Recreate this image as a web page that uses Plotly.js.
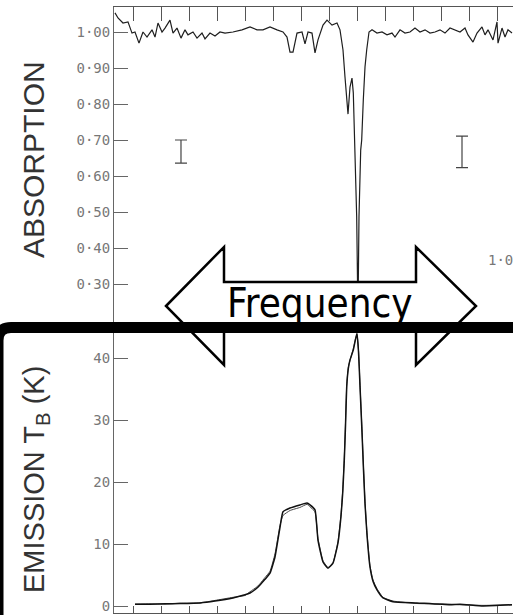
<!DOCTYPE html>
<html>
<head>
<meta charset="utf-8">
<script src="https://cdn.plot.ly/plotly-3.0.1.min.js"></script>
<style>
  html, body { margin: 0; padding: 0; background: #fff; overflow: hidden; }
  #chart { width: 513px; height: 615px; }
</style>
</head>
<body>
<div id="chart"></div>
<script>
// Channel axis (tick marks every channel, no labels)
const channelTicks = [0, 1, 2, 3, 4, 5, 6, 7, 8, 9, 10, 11, 12, 13];

// 21-cm absorption spectrum (line-to-continuum ratio)
const absChannel = [-0.643, -0.536, -0.357, -0.179, -0.036, 0.071, 0.214, 0.357, 0.5, 0.679, 0.786, 0.893,
  1.036, 1.143, 1.321, 1.429, 1.571, 1.714, 1.857, 1.964, 2.143, 2.286, 2.464, 2.571, 2.75, 2.929,
  3.107, 3.286, 3.571, 3.893, 4.179, 4.429, 4.643, 4.893, 5.143, 5.357, 5.5, 5.607, 5.714, 5.857,
  6.036, 6.143, 6.25, 6.393, 6.5, 6.607, 6.786, 6.929, 7.107, 7.286, 7.393, 7.5, 7.571, 7.679,
  7.75, 7.821, 7.868, 7.939, 7.989, 8.018, 8.029, 8.046, 8.071, 8.132, 8.168, 8.225, 8.286, 8.346,
  8.429, 8.536, 8.714, 8.893, 9.071, 9.25, 9.357, 9.536, 9.714, 9.893, 10.071, 10.25, 10.429,
  10.607, 10.786, 10.964, 11.143, 11.321, 11.5, 11.679, 11.857, 11.964, 12.143, 12.286, 12.464,
  12.571, 12.679, 12.857, 13.0, 13.036, 13.179, 13.286, 13.393, 13.536];
const absRatio = [1.053, 1.039, 1.025, 1.028, 0.997, 1.000, 0.969, 1.000, 0.986, 1.006, 0.986, 1.025,
  1.000, 1.011, 1.033, 0.997, 1.011, 0.983, 1.006, 0.992, 1.000, 0.983, 0.997, 0.981, 0.997, 0.989,
  1.000, 0.997, 1.000, 1.006, 1.014, 1.006, 1.006, 1.014, 1.006, 1.000, 0.986, 0.944, 0.944, 0.997,
  1.000, 0.967, 1.000, 0.997, 0.942, 0.978, 1.019, 1.033, 1.019, 1.025, 1.006, 0.950, 0.875, 0.772,
  0.847, 0.872, 0.831, 0.644, 0.486, 0.311, 0.190, 0.300, 0.486, 0.672, 0.700, 0.811, 0.903, 0.950,
  1.000, 1.006, 0.997, 1.000, 0.992, 0.997, 0.986, 1.006, 0.997, 1.000, 1.011, 1.000, 1.006,
  0.997, 1.000, 1.006, 0.997, 1.011, 1.006, 1.000, 1.011, 0.992, 0.972, 0.997, 1.014,
  0.992, 1.006, 0.978, 1.028, 0.969, 1.011, 0.986, 1.006, 0.997];

// Noise error bars on the absorption ratio
const errChannel = [1.714, 11.75];
const errCentre = [0.668, 0.667];
const errHalf = [0.032, 0.044];

// 21-cm emission brightness temperature (K), two overlaid scans
const emChannel = [0.071, 0.607, 1.143, 1.679, 2.393, 2.929, 3.571, 4.0, 4.179, 4.429,
  4.536, 4.714, 4.893, 5.071, 5.25, 5.357, 5.607, 5.964, 6.214, 6.321,
  6.5, 6.607, 6.786, 6.964, 7.143, 7.321, 7.429, 7.489, 7.546, 7.589,
  7.632, 7.689, 7.75, 7.868, 7.946, 8.0, 8.054, 8.107, 8.179, 8.232,
  8.286, 8.357, 8.464, 8.571, 8.714, 8.929, 9.286, 10.143, 11.321, 11.679,
  12.5, 13.536];
const emScanA = [0.3, 0.3, 0.35, 0.4, 0.5, 0.8, 1.3, 1.8, 2.1, 2.9,
  3.4, 4.3, 5.3, 7.9, 12.7, 15.2, 15.8, 16.3, 16.6, 16.3,
  15.5, 10.6, 7.1, 6.1, 6.9, 10.2, 14.5, 18.2, 23.5, 29.0,
  35.3, 38.3, 39.7, 41.3, 43.0, 44.0, 41.0, 35.5, 28.0, 22.0,
  16.5, 11.5, 6.3, 4.0, 2.6, 1.3, 0.7, 0.5, 0.2, 0.3,
  0.0, 0.2];
const emScanB = [0.3, 0.35, 0.3, 0.45, 0.5, 0.9, 1.4, 1.7, 2.3, 3.1,
  3.6, 4.6, 5.6, 8.4, 13.0, 14.6, 15.4, 15.9, 16.4, 16.0,
  15.2, 10.9, 7.3, 6.2, 7.0, 10.4, 14.8, 18.6, 24.0, 29.5,
  35.6, 38.5, 39.6, 41.5, 43.1, 43.8, 41.3, 35.8, 28.4, 22.4,
  16.9, 11.8, 6.5, 4.2, 2.8, 1.4, 0.8, 0.4, 0.3, 0.2,
  0.1, 0.2];

// Tick values and labels
const absTickVals = [0.3, 0.4, 0.5, 0.6, 0.7, 0.8, 0.9, 1.0];
const absTickText = ['0·30', '0·40', '0·50', '0·60', '0·70', '0·80', '0·90', '1·00'];
const emTickVals = [0, 10, 20, 30, 40];
const emTickText = ['0', '10', '20', '30', '40'];

// ---- page geometry (pixels) ----
const W = 513, H = 615;
const plotLeft = 114, plotRight = 513, plotTop = 7, plotBottom = 613;
const split = 327; // boundary between the two panels
const toPx = p => (p - plotLeft) / (plotRight - plotLeft);
const toPy = p => (plotBottom - p) / (plotBottom - plotTop);
const splitFrac = toPy(split);

const labelFont = { family: 'DejaVu Sans Mono, monospace', size: 14, color: '#777' };
const axisColor = '#555';

const traces = [
  {
    x: absChannel, y: absRatio, xaxis: 'x2', yaxis: 'y2', type: 'scatter', mode: 'lines',
    line: { color: '#1e1e1e', width: 1.2 }, hoverinfo: 'skip'
  },
  {
    x: errChannel, y: errCentre, xaxis: 'x2', yaxis: 'y2', type: 'scatter', mode: 'markers',
    marker: { size: 1, color: 'rgba(0,0,0,0)' },
    error_y: { type: 'data', array: errHalf, visible: true, color: '#444', thickness: 1.2, width: 6 },
    hoverinfo: 'skip'
  },
  {
    x: emChannel, y: emScanB, xaxis: 'x', yaxis: 'y', type: 'scatter', mode: 'lines',
    line: { color: '#444', width: 1, shape: 'spline', smoothing: 0.4 }, hoverinfo: 'skip'
  },
  {
    x: emChannel, y: emScanA, xaxis: 'x', yaxis: 'y', type: 'scatter', mode: 'lines',
    line: { color: '#111', width: 1.5, shape: 'spline', smoothing: 0.4 }, hoverinfo: 'skip'
  }
];

const xRange = [(plotLeft - 133) / 28, (plotRight - 133) / 28];

const baseX = {
  range: xRange, showline: true, linecolor: axisColor, linewidth: 1,
  ticks: 'inside', tickcolor: axisColor, tickwidth: 1,
  tickmode: 'array', tickvals: channelTicks, showticklabels: false,
  showgrid: false, zeroline: false, fixedrange: true
};
const baseY = {
  showline: true, linecolor: '#666', linewidth: 1,
  ticks: 'inside', ticklen: 14, tickcolor: '#666', tickwidth: 1,
  tickmode: 'array', tickfont: labelFont,
  showgrid: false, zeroline: false, fixedrange: true
};

// Double-headed "Frequency" arrow outline
const arrowPts = [[166, 306], [224, 247], [224, 282], [416, 282], [416, 247], [476, 306],
  [416, 365], [416, 330], [224, 330], [224, 365]];
const arrowPath = arrowPts.map((p, i) => (i ? 'L' : 'M') + toPx(p[0]) + ',' + toPy(p[1])).join(' ') + ' Z';

// Rounded frame around the emission panel
const frameX = -2, frameY = 327.5, frameR = 13;
const framePath = 'M' + toPx(frameX) + ',' + toPy(700) +
  ' L' + toPx(frameX) + ',' + toPy(frameY + frameR) +
  ' Q' + toPx(frameX) + ',' + toPy(frameY) + ' ' + toPx(frameX + frameR) + ',' + toPy(frameY) +
  ' L' + toPx(560) + ',' + toPy(frameY);

const layout = {
  width: W, height: H,
  margin: { l: plotLeft, r: W - plotRight, t: plotTop, b: H - plotBottom, pad: 0 },
  paper_bgcolor: '#fff', plot_bgcolor: '#fff',
  showlegend: false,
  xaxis: Object.assign({}, baseX, { anchor: 'y', ticklen: 7 }),
  xaxis2: Object.assign({}, baseX, { anchor: 'y2', side: 'top', ticklen: 14, matches: 'x' }),
  yaxis: Object.assign({}, baseY, {
    domain: [0, splitFrac], range: [(606 - plotBottom) / 6.2, (606 - split) / 6.2],
    tickvals: emTickVals, ticktext: emTickText
  }),
  yaxis2: Object.assign({}, baseY, {
    domain: [splitFrac, 1], range: [1 - (split - 32) / 360, 1 + (32 - plotTop) / 360],
    tickvals: absTickVals, ticktext: absTickText
  }),
  shapes: [
    {
      type: 'path', xref: 'paper', yref: 'paper', layer: 'above', path: arrowPath,
      fillcolor: '#fff', line: { color: '#000', width: 2.5 }
    },
    {
      type: 'path', xref: 'paper', yref: 'paper', layer: 'above', path: framePath,
      fillcolor: 'rgba(0,0,0,0)', line: { color: '#000', width: 11 }
    }
  ],
  annotations: [
    {
      text: 'ABSORPTION', xref: 'paper', yref: 'paper', x: toPx(33), y: toPy(160),
      xanchor: 'center', yanchor: 'middle', textangle: -90, showarrow: false,
      font: { family: 'Liberation Sans, Arial, sans-serif', size: 30, color: '#333' }
    },
    {
      text: 'EMISSION T<sub>B</sub> (K)', xref: 'paper', yref: 'paper', x: toPx(36), y: toPy(480),
      xanchor: 'center', yanchor: 'middle', textangle: -90, showarrow: false,
      font: { family: 'Liberation Sans, Arial, sans-serif', size: 29, color: '#333' }
    },
    {
      text: 'Frequency', xref: 'paper', yref: 'paper', x: toPx(320), y: toPy(303),
      xanchor: 'center', yanchor: 'middle', showarrow: false,
      font: { family: 'DejaVu Sans Condensed, DejaVu Sans, sans-serif', size: 40, color: '#000' }
    },
    {
      text: '1·0', xref: 'paper', yref: 'paper', x: toPx(486), y: toPy(260),
      xanchor: 'left', yanchor: 'middle', showarrow: false, font: labelFont
    }
  ]
};

Plotly.newPlot('chart', traces, layout, { staticPlot: true, displayModeBar: false });
</script>
</body>
</html>
